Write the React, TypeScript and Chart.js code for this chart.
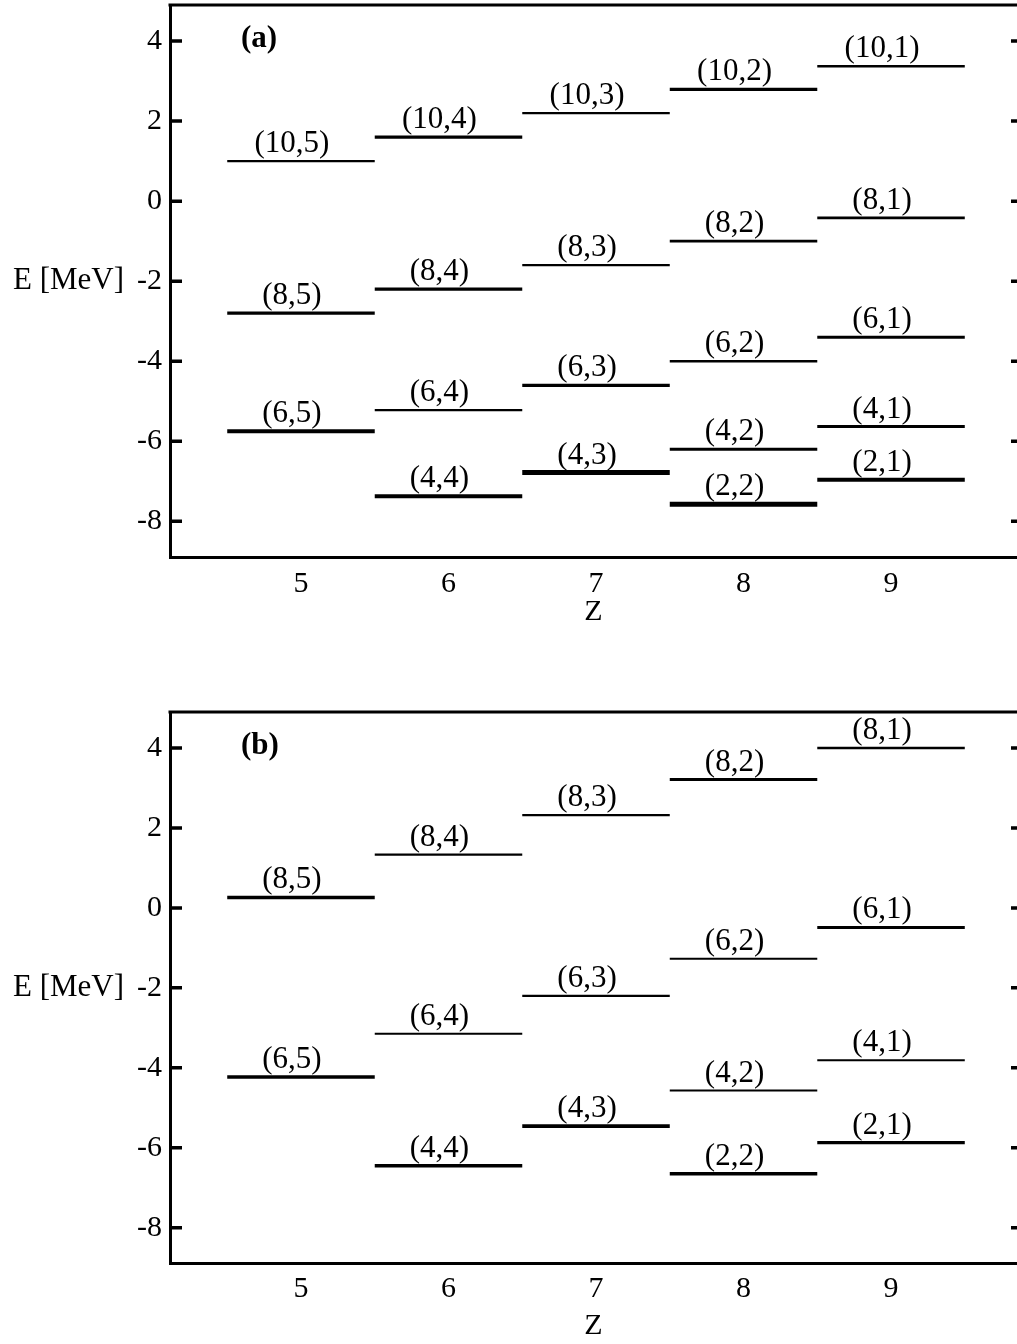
import React, { useEffect, useRef } from "react";
import { Chart, registerables } from "chart.js";

Chart.register(...registerables);

const FONT = "'Liberation Serif', 'Times New Roman', serif";

// Axis ticks
const zTicks = [5, 6, 7, 8, 9];
const energyTicks = [-8, -6, -4, -2, 0, 2, 4];

// Panel (a)
const zA = [5, 5, 5, 6, 6, 6, 6, 7, 7, 7, 7, 8, 8, 8, 8, 8, 9, 9, 9, 9, 9];
const labelsA = [
  "(10,5)", "(8,5)", "(6,5)",
  "(10,4)", "(8,4)", "(6,4)", "(4,4)",
  "(10,3)", "(8,3)", "(6,3)", "(4,3)",
  "(10,2)", "(8,2)", "(6,2)", "(4,2)", "(2,2)",
  "(10,1)", "(8,1)", "(6,1)", "(4,1)", "(2,1)",
];
const energyA = [
  1.0, -2.8, -5.75,
  1.6, -2.2, -5.22, -7.37,
  2.2, -1.6, -4.6, -6.78,
  2.79, -1.0, -4.0, -6.2, -7.57,
  3.37, -0.42, -3.4, -5.63, -6.96,
];
const lineWidthsA = [
  2.3, 3.3, 4,
  3.3, 3.3, 2.3, 4,
  2.3, 2.3, 3.3, 5,
  3.3, 2.7, 2.3, 3, 5,
  2.3, 2.7, 3, 3, 4,
];

// Panel (b)
const zB = [5, 5, 6, 6, 6, 7, 7, 7, 8, 8, 8, 8, 9, 9, 9, 9];
const labelsB = [
  "(8,5)", "(6,5)",
  "(8,4)", "(6,4)", "(4,4)",
  "(8,3)", "(6,3)", "(4,3)",
  "(8,2)", "(6,2)", "(4,2)", "(2,2)",
  "(8,1)", "(6,1)", "(4,1)", "(2,1)",
];
const energyB = [
  0.26, -4.23,
  1.33, -3.15, -6.45,
  2.32, -2.2, -5.46,
  3.21, -1.27, -4.57, -6.65,
  4.0, -0.49, -3.81, -5.87,
];
const lineWidthsB = [
  3.7, 3.7,
  2.3, 2, 3.7,
  2.3, 2.3, 3.7,
  3, 2, 2, 3.7,
  2.3, 3, 2, 3.3,
];

const Z_MIN = 4.112;
const Z_MAX = 9.854;
const E_MIN = -8.89;
const E_MAX = 4.9;
const HALF_WIDTH = 0.5;

type PanelProps = {
  tag: string;
  z: number[];
  energy: number[];
  labels: string[];
  widths: number[];
  top: number;
  height: number;
  padTop: number;
  xAxisHeight: number;
  tickPad: number;
  titlePadBottom: number;
};

function Panel(p: PanelProps) {
  const ref = useRef<HTMLCanvasElement | null>(null);

  useEffect(() => {
    if (!ref.current) return;
    const datasets = p.z.map((zz, i) => ({
      label: p.labels[i],
      data: [
        { x: zz - HALF_WIDTH, y: p.energy[i] },
        { x: zz + HALF_WIDTH, y: p.energy[i] },
      ],
      borderColor: "#000",
      borderWidth: p.widths[i],
      borderCapStyle: "butt" as const,
      pointRadius: 0,
      fill: false,
      tension: 0,
    }));

    const overlay = {
      id: "overlay",
      afterDatasetsDraw(chart: any) {
        const { ctx, chartArea: ca, scales } = chart;
        const x = scales.x;
        const y = scales.y;
        ctx.save();
        ctx.strokeStyle = "#000";
        ctx.lineWidth = 3;
        ctx.beginPath();
        ctx.moveTo(ca.left - 1.5, ca.top);
        ctx.lineTo(ca.right, ca.top);
        ctx.stroke();
        ctx.lineWidth = 3.5;
        for (const v of energyTicks) {
          const py = y.getPixelForValue(v);
          ctx.beginPath();
          ctx.moveTo(ca.left, py);
          ctx.lineTo(ca.left + 12, py);
          ctx.moveTo(ca.right - 6, py);
          ctx.lineTo(ca.right, py);
          ctx.stroke();
        }
        ctx.fillStyle = "#000";
        ctx.font = `31px ${FONT}`;
        ctx.textAlign = "center";
        ctx.textBaseline = "alphabetic";
        p.labels.forEach((t, i) => {
          ctx.fillText(t, x.getPixelForValue(p.z[i]) - 9, y.getPixelForValue(p.energy[i]) - 9);
        });
        ctx.font = `bold 31px ${FONT}`;
        ctx.textAlign = "left";
        ctx.textBaseline = "middle";
        ctx.fillText(p.tag, ca.left + 71, ca.top + 34);
        ctx.font = `31px ${FONT}`;
        ctx.fillText("E [MeV]", 13, y.getPixelForValue(-2));
        ctx.restore();
      },
    };

    const chart = new Chart(ref.current, {
      type: "line",
      data: { datasets },
      options: {
        animation: false,
        responsive: false,
        maintainAspectRatio: false,
        layout: { padding: { top: p.padTop, left: 0, right: 0, bottom: 0 } },
        plugins: { legend: { display: false }, tooltip: { enabled: false } },
        scales: {
          x: {
            type: "linear",
            min: Z_MIN,
            max: Z_MAX,
            afterBuildTicks: (s: any) => {
              s.ticks = zTicks.map((v) => ({ value: v }));
            },
            afterFit: (s: any) => {
              s.height = p.xAxisHeight;
              s.paddingLeft = 0;
              s.paddingRight = 0;
              s.paddingTop = 0;
              s.paddingBottom = 0;
            },
            grid: { display: false, drawTicks: false },
            border: { display: true, width: 3, color: "#000" },
            ticks: {
              color: "#000",
              font: { family: FONT, size: 30 },
              padding: p.tickPad,
              autoSkip: false,
              maxRotation: 0,
              callback: (v: any) => String(v),
            },
            title: {
              display: true,
              text: "Z",
              color: "#000",
              font: { family: FONT, size: 30 },
              padding: { top: 0, bottom: p.titlePadBottom },
            },
          },
          y: {
            type: "linear",
            min: E_MIN,
            max: E_MAX,
            afterBuildTicks: (s: any) => {
              s.ticks = energyTicks.map((v) => ({ value: v }));
            },
            afterFit: (s: any) => {
              s.width = 170;
              s.paddingLeft = 0;
              s.paddingRight = 0;
              s.paddingTop = 0;
              s.paddingBottom = 0;
            },
            grid: { display: false, drawTicks: false },
            border: { display: true, width: 3, color: "#000" },
            ticks: {
              color: "#000",
              font: { family: FONT, size: 30 },
              padding: 8,
              callback: (v: any) => String(v),
            },
          },
        },
      },
      plugins: [overlay],
    } as any);
    return () => chart.destroy();
  }, []);

  return (
    <canvas
      ref={ref}
      width={1017}
      height={p.height}
      style={{ position: "absolute", left: 0, top: p.top, width: 1017, height: p.height }}
    />
  );
}

export default function App() {
  return (
    <div
      style={{
        position: "absolute",
        left: 0,
        top: 0,
        width: 1017,
        height: 1344,
        background: "#fff",
        overflow: "hidden",
      }}
    >
      <Panel
        tag="(a)"
        z={zA}
        energy={energyA}
        labels={labelsA}
        widths={lineWidthsA}
        top={0}
        height={640}
        padTop={5}
        xAxisHeight={83}
        tickPad={9}
        titlePadBottom={9.5}
      />
      <Panel
        tag="(b)"
        z={zB}
        energy={energyB}
        labels={labelsB}
        widths={lineWidthsB}
        top={700}
        height={644}
        padTop={12}
        xAxisHeight={80.7}
        tickPad={8}
        titlePadBottom={0}
      />
    </div>
  );
}
